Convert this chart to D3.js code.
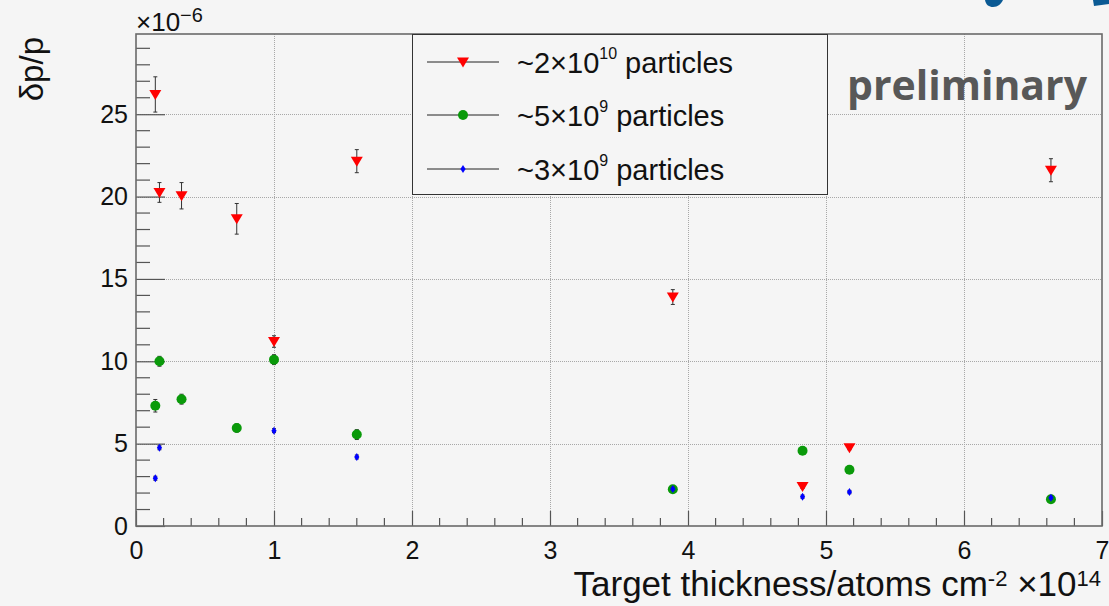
<!DOCTYPE html>
<html>
<head>
<meta charset="utf-8">
<script src="https://cdn.jsdelivr.net/npm/d3@7"></script>
<style>
  html, body { margin: 0; padding: 0; background: #f5f5f5; }
  svg { display: block; font-family: "Liberation Sans", Arial, Helvetica, sans-serif; }
</style>
</head>
<body>
<svg id="chart" width="1109" height="606"></svg>
<script>
// Target thickness in units of 1e14 atoms/cm^2
const xRed   = [0.14, 0.17, 0.33, 0.73, 1.0, 1.6, 3.89, 4.83, 5.17, 6.63];
const yRed   = [26.2, 20.25, 20.05, 18.65, 11.2, 22.15, 13.9, 2.4, 4.75, 21.6];
const eRed   = [1.07, 0.6, 0.8, 0.93, 0.35, 0.7, 0.45, 0.12, 0.12, 0.7];

const xGreen = [0.14, 0.17, 0.33, 0.73, 1.0, 1.6, 3.89, 4.83, 5.17, 6.63];
const yGreen = [7.3, 10.0, 7.7, 5.95, 10.1, 5.55, 2.23, 4.57, 3.42, 1.62];
const eGreen = [0.38, 0.3, 0.3, 0.25, 0.3, 0.3, 0.1, 0.1, 0.1, 0.1];

const xBlue  = [0.14, 0.17, 1.0, 1.6, 3.89, 4.83, 5.17, 6.63];
const yBlue  = [2.9, 4.75, 5.79, 4.19, 2.25, 1.78, 2.06, 1.72];
const eBlue  = [0.12, 0.12, 0.12, 0.12, 0.1, 0.1, 0.1, 0.1];

const xTicks = [0, 1, 2, 3, 4, 5, 6, 7];
const yTicks = [0, 5, 10, 15, 20, 25];
const seriesNames = ["~2\u00d710|10| particles", "~5\u00d710|9| particles", "~3\u00d710|9| particles"];

const svg = d3.select("#chart");
const W = 1109, H = 606;
const pL = 136, pR = 1102, pT = 34, pB = 526;

const x = d3.scaleLinear().domain([0, 7]).range([pL, pR]);
const y = d3.scaleLinear().domain([0, 29.87]).range([pB, pT]);

svg.append("rect").attr("width", W).attr("height", H).attr("fill", "#f5f5f5");

// partial logo shapes at the top edge
svg.append("path").attr("d", "M985,0 C986,5 989,7 993,7 C998,7 1001,4 1003,0 Z").attr("fill", "#0b5a94");
svg.append("path").attr("d", "M1093,0 L1109,0 L1109,4 L1094,6 Z").attr("fill", "#0b5a94");

// grid
const grid = svg.append("g").attr("stroke", "#a8a8a8").attr("stroke-width", 1).attr("stroke-dasharray", "1,1");
grid.selectAll("line.gx").data(xTicks.filter(d => d > 0 && d < 7)).join("line")
  .attr("x1", d => Math.round(x(d)) + 0.5).attr("x2", d => Math.round(x(d)) + 0.5)
  .attr("y1", pT).attr("y2", pB);
grid.selectAll("line.gy").data(yTicks.filter(d => d > 0)).join("line")
  .attr("y1", d => Math.round(y(d)) + 0.5).attr("y2", d => Math.round(y(d)) + 0.5)
  .attr("x1", pL).attr("x2", pR);

// axes
const tickColor = "#555";
const gx = svg.append("g").attr("transform", `translate(0,${pB})`)
  .call(d3.axisBottom(x).tickValues(xTicks).tickFormat(d3.format("d")).tickSizeInner(-15).tickSizeOuter(0).tickPadding(15));
const gy = svg.append("g").attr("transform", `translate(${pL},0)`)
  .call(d3.axisLeft(y).tickValues(yTicks).tickFormat(d3.format("d")).tickSizeInner(-29).tickSizeOuter(0).tickPadding(8));
[gx, gy].forEach(g => {
  g.select(".domain").remove();
  g.selectAll(".tick line").attr("stroke", tickColor).attr("stroke-width", 1.2);
  g.selectAll(".tick text").attr("font-size", 25).attr("fill", "#111")
    .attr("font-family", "Liberation Sans, Arial, sans-serif");
});

// minor ticks
const minorX = d3.range(0, 7.001, 0.2).filter(v => Math.abs(v - Math.round(v)) > 1e-6);
svg.append("g").selectAll("line").data(minorX).join("line")
  .attr("x1", d => x(d)).attr("x2", d => x(d)).attr("y1", pB).attr("y2", pB - 8)
  .attr("stroke", tickColor).attr("stroke-width", 1.2);
const minorY = d3.range(0, 30, 1).filter(v => v % 5 !== 0);
svg.append("g").selectAll("line").data(minorY).join("line")
  .attr("y1", d => y(d)).attr("y2", d => y(d)).attr("x1", pL).attr("x2", pL + 14)
  .attr("stroke", tickColor).attr("stroke-width", 1.2);

// frame
svg.append("rect").attr("x", pL).attr("y", pT).attr("width", pR - pL).attr("height", pB - pT)
  .attr("fill", "none").attr("stroke", "#6a6a6a").attr("stroke-width", 1.6);

// axis titles
const xt = svg.append("text").attr("x", 1101).attr("y", 596).attr("text-anchor", "end")
  .attr("font-size", 35).attr("fill", "#111");
xt.append("tspan").text("Target thickness/atoms cm");
xt.append("tspan").attr("font-size", 22).attr("dy", -10).text("-2");
xt.append("tspan").attr("dy", 10).text(" \u00d710");
xt.append("tspan").attr("font-size", 22).attr("dy", -10).text("14");

svg.append("text").attr("transform", "translate(43,37) rotate(-90)").attr("text-anchor", "end")
  .attr("font-size", 33).attr("fill", "#111").text("\u03b4p/p");

const ex = svg.append("text").attr("x", 136).attr("y", 31).attr("font-size", 26).attr("fill", "#111");
ex.append("tspan").text("\u00d710");
ex.append("tspan").attr("font-size", 20).attr("dy", -9).text("\u22126");

// legend
const lg = svg.append("g");
lg.append("rect").attr("x", 412.5).attr("y", 34.5).attr("width", 415).attr("height", 160)
  .attr("fill", "#f5f5f5").attr("stroke", "#333").attr("stroke-width", 1);

// marker shapes
const markers = {
  tri: (g, color) => g.append("path").attr("d", "M-6,-4.5 L6,-4.5 L0,5.5 Z").attr("fill", color),
  circ: (g, color) => g.append("circle").attr("r", 5).attr("fill", color),
  dia: (g, color) => g.append("path").attr("d", "M0,-4 L2.6,0 L0,4 L-2.6,0 Z").attr("fill", color)
};

const series = [
  { xs: xRed, ys: yRed, es: eRed, color: "#ff0000", m: "tri" },
  { xs: xGreen, ys: yGreen, es: eGreen, color: "#0a9a0a", m: "circ" },
  { xs: xBlue, ys: yBlue, es: eBlue, color: "#0000ff", m: "dia" }
];

const rowsY = [62, 115, 169];
series.forEach((s, i) => {
  const ry = rowsY[i];
  lg.append("line").attr("x1", 427).attr("x2", 499).attr("y1", ry).attr("y2", ry)
    .attr("stroke", "#222").attr("stroke-width", 1);
  markers[s.m](lg.append("g").attr("transform", `translate(463,${ry})`), s.color);
  const parts = seriesNames[i].split("|");
  const t = lg.append("text").attr("x", 517).attr("y", ry + 11).attr("font-size", 29).attr("fill", "#111");
  t.append("tspan").text(parts[0]);
  t.append("tspan").attr("font-size", 16).attr("dy", -14).text(parts[1]);
  t.append("tspan").attr("dy", 14).text(parts[2]);
});

// data: error bars then markers, later series on top
series.forEach(s => {
  const pts = s.xs.map((v, i) => ({ x: v, y: s.ys[i], e: s.es[i] }));
  const g = svg.append("g");
  const eb = g.append("g").attr("stroke", "#333").attr("stroke-width", 1);
  pts.forEach(p => {
    const cx = x(p.x), y1 = y(p.y + p.e), y2 = y(p.y - p.e);
    eb.append("line").attr("x1", cx).attr("x2", cx).attr("y1", y1).attr("y2", y2);
    eb.append("line").attr("x1", cx - 2).attr("x2", cx + 2).attr("y1", y1).attr("y2", y1);
    eb.append("line").attr("x1", cx - 2).attr("x2", cx + 2).attr("y1", y2).attr("y2", y2);
  });
  pts.forEach(p => markers[s.m](g.append("g").attr("transform", `translate(${x(p.x)},${y(p.y)})`), s.color));
});

// watermark label
svg.append("text").attr("x", 847).attr("y", 100).attr("font-family", "Open Sans, sans-serif")
  .attr("font-weight", "bold").attr("font-size", 42).attr("fill", "#585858")
  .attr("textLength", 240).attr("lengthAdjust", "spacingAndGlyphs").text("preliminary");
</script>
</body>
</html>
